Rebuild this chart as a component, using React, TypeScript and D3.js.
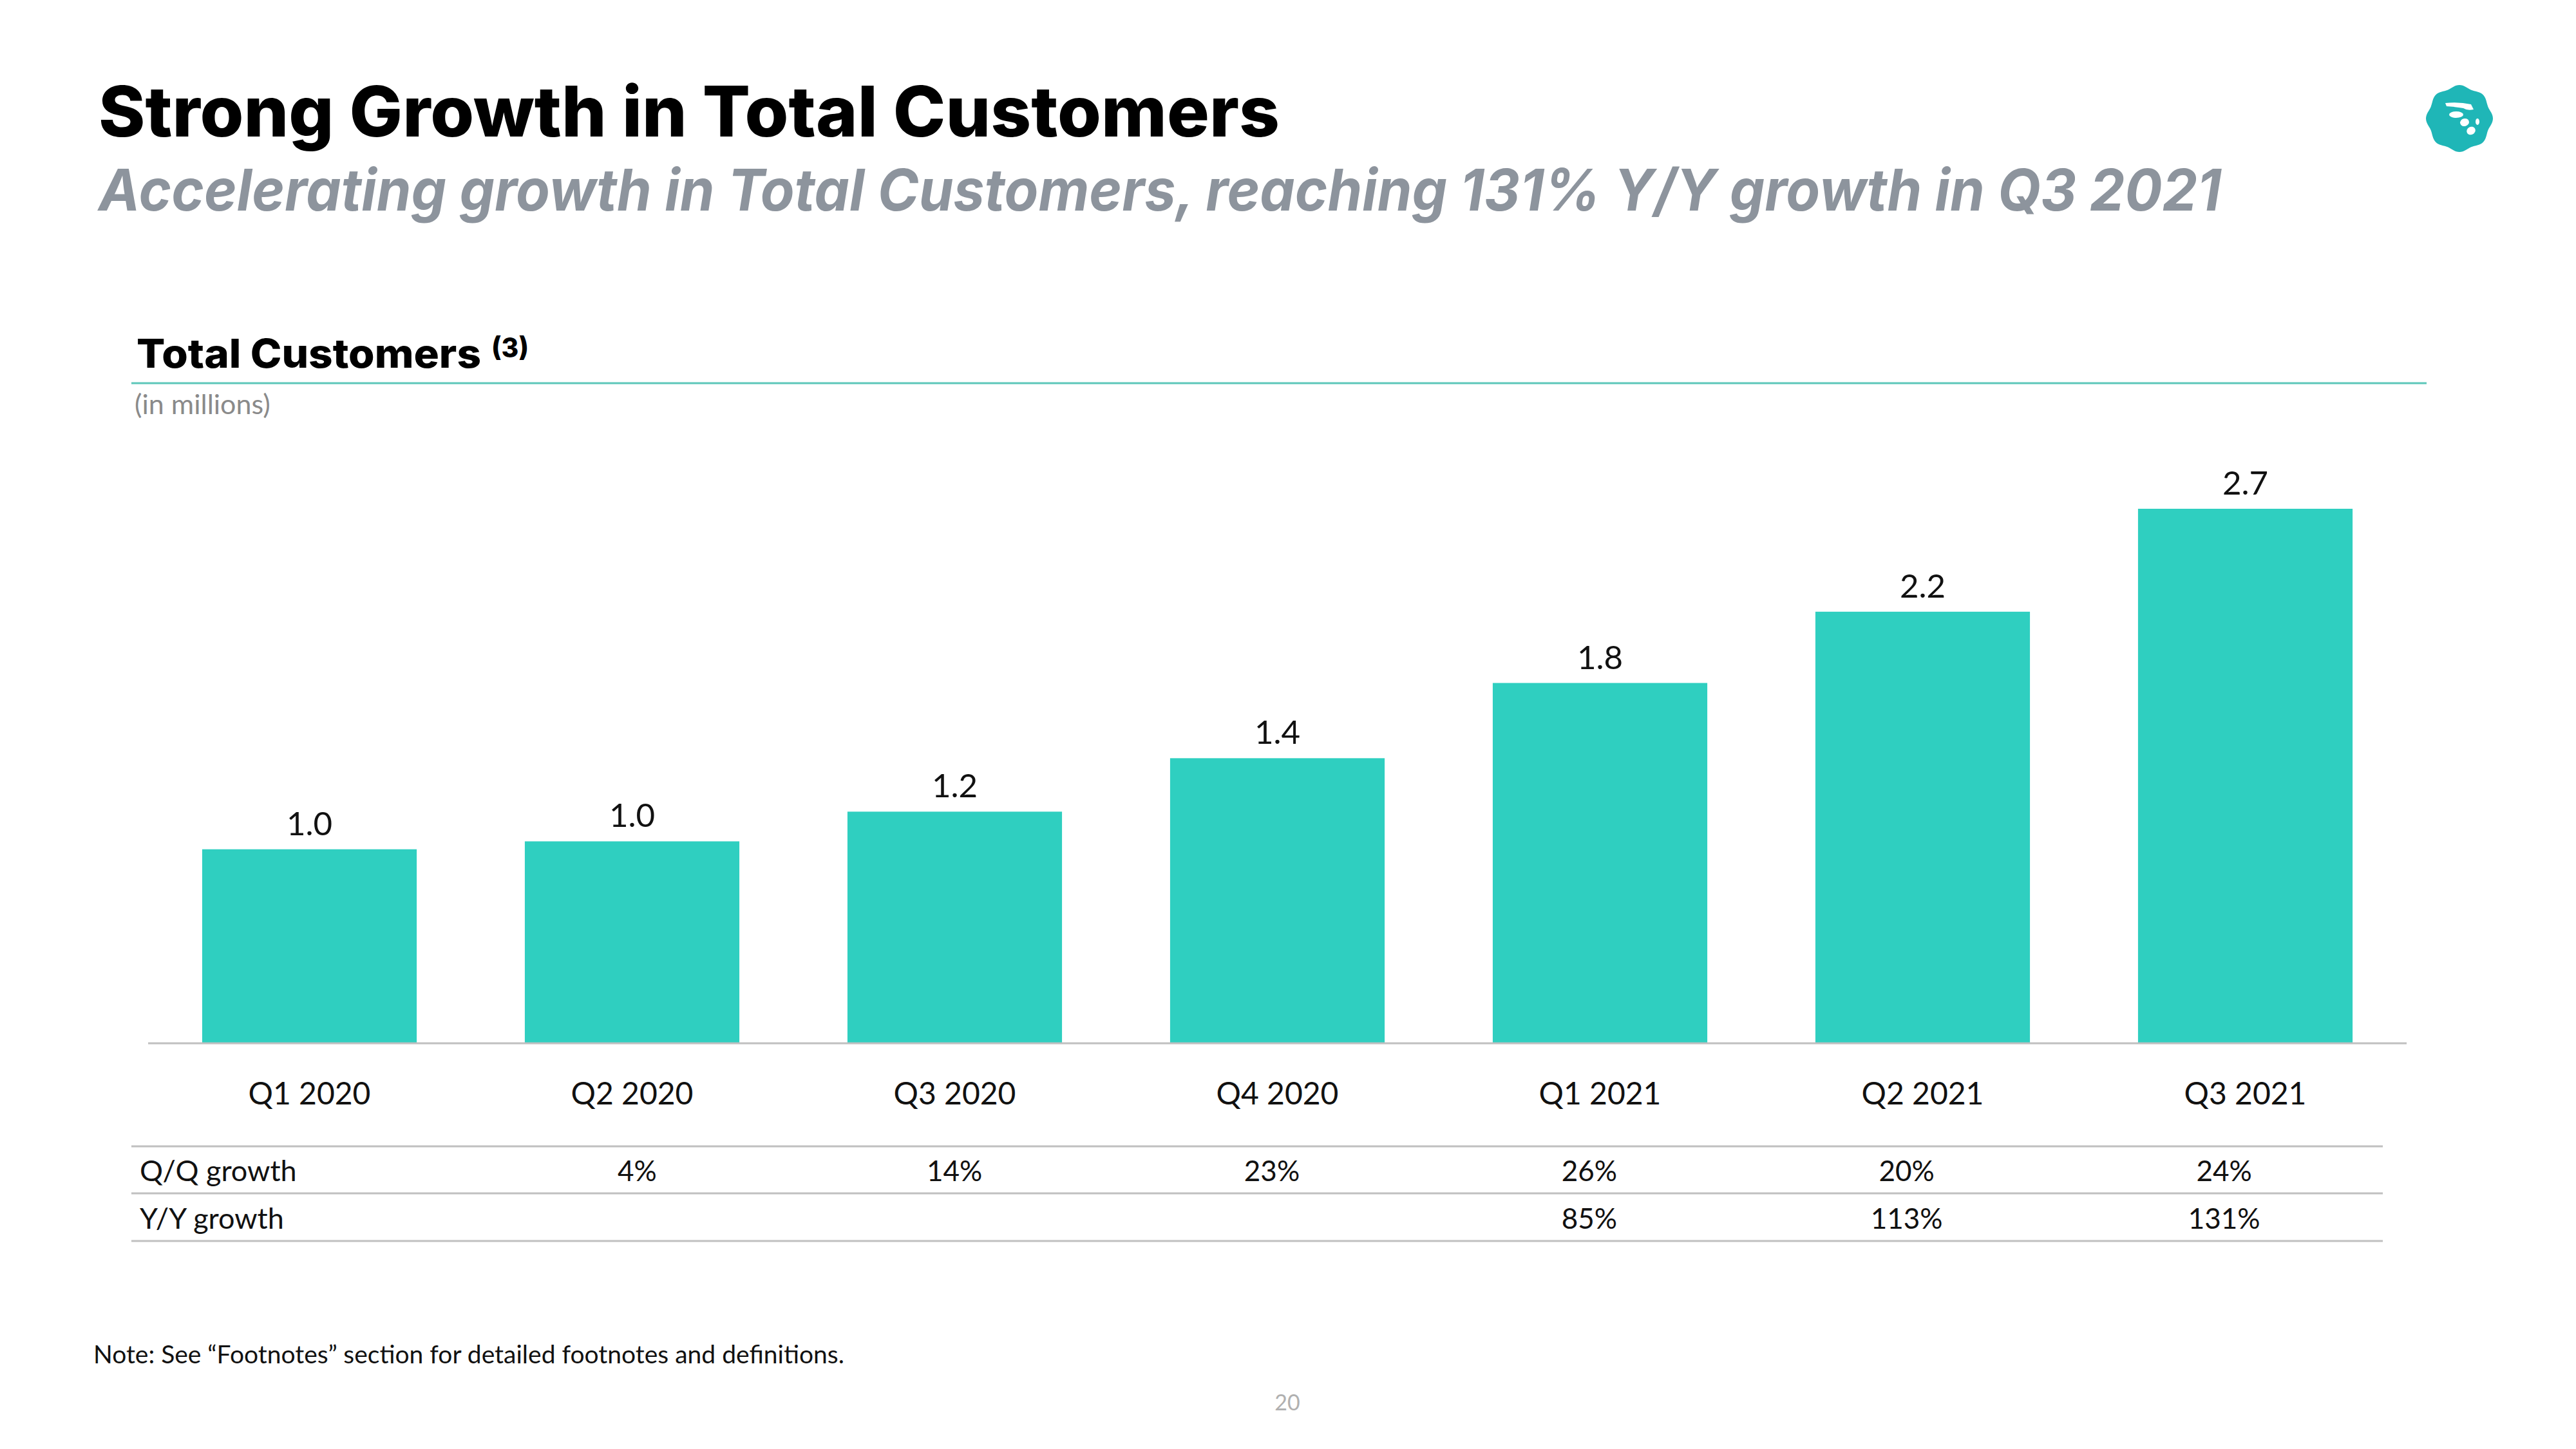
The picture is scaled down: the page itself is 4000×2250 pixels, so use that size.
import React from "react";
import * as d3 from "d3";

const categories = ["Q1 2020", "Q2 2020", "Q3 2020", "Q4 2020", "Q1 2021", "Q2 2021", "Q3 2021"];
const customers = [0.98, 1.02, 1.17, 1.44, 1.82, 2.18, 2.7];
const qoqGrowth: (number | null)[] = [null, 4, 14, 23, 26, 20, 24];
const yoyGrowth: (number | null)[] = [null, null, null, null, 85, 113, 131];
const rowLabels = ["Q/Q growth", "Y/Y growth"];

const TEAL = "#2fcfc0";
const FONT = "Lato, 'Open Sans', sans-serif";
const HEAVY = "Inter, Lato, sans-serif";

function Logo({ cx, cy, r }: { cx: number; cy: number; r: number }) {
  const pts = d3.range(0, 64).map((i) => {
    const a = (i / 64) * Math.PI * 2;
    const rr = r * (1 + 0.04 * Math.cos(a * 8));
    return [a, rr] as [number, number];
  });
  const path = d3.lineRadial().curve(d3.curveCardinalClosed)(pts) || "";
  return (
    <g transform={`translate(${cx},${cy})`}>
      <path d={path} fill="#1fb6b7" />
      <path d="M-22,-24 Q0,-26 18,-22 L22,-14 Q12,-12 6,-16 Q-4,-18 -20,-19 Z" fill="#fff" />
      <ellipse cx={-5} cy={-6} rx={11} ry={5} fill="#fff" />
      <ellipse cx={8} cy={6} rx={7} ry={6} fill="#fff" transform="rotate(-15 8 6)" />
      <ellipse cx={28} cy={5} rx={3} ry={5} fill="#fff" />
      <ellipse cx={18} cy={19} rx={7} ry={6} fill="#fff" transform="rotate(-30 18 19)" />
    </g>
  );
}

export default function App() {
  const x = d3
    .scaleBand<string>()
    .domain(categories)
    .range([230, 3737])
    .paddingInner(0.335)
    .paddingOuter(0.1675);
  const y = d3.scaleLinear().domain([0, 2.7]).range([1620, 790]);
  const tx = d3.scaleBand<string>().domain(categories).range([250, 3700]);
  const fmt = d3.format(".1f");

  return (
    <svg
      width={4000}
      height={2250}
      style={{ position: "absolute", left: 0, top: 0, background: "#fff" }}
    >
      <rect x={0} y={0} width={4000} height={2250} fill="#fff" />
      <text x={153} y={212} fontFamily={HEAVY} fontWeight={800} fontSize={108} fill="#000" textLength={1834} lengthAdjust="spacingAndGlyphs">
        Strong Growth in Total Customers
      </text>
      <text x={153} y={327} fontFamily={HEAVY} fontWeight={700} fontStyle="italic" fontSize={90} fill="#8d949d" textLength={3296} lengthAdjust="spacingAndGlyphs">
        Accelerating growth in Total Customers, reaching 131% Y/Y growth in Q3 2021
      </text>
      <Logo cx={3819} cy={184} r={50} />

      <text x={212} y={571} fontFamily={HEAVY} fontWeight={800} fontSize={62} fill="#000" textLength={535} lengthAdjust="spacingAndGlyphs">
        Total Customers
      </text>
      <text x={763} y={555} fontFamily={HEAVY} fontWeight={800} fontSize={42} fill="#000" textLength={58} lengthAdjust="spacingAndGlyphs">
        (3)
      </text>
      <line x1={204} x2={3768} y1={595} y2={595} stroke="#5cc7b9" strokeWidth={3} />
      <text x={209} y={643} fontFamily={FONT} fontSize={43} fill="#8a8a8a">
        (in millions)
      </text>

      {categories.map((c, i) => (
        <g key={c}>
          <rect x={x(c)} y={y(customers[i])} width={x.bandwidth()} height={y(0) - y(customers[i])} fill={TEAL} />
          <text x={(x(c) || 0) + x.bandwidth() / 2} y={y(customers[i]) - 22} textAnchor="middle" fontFamily={FONT} fontSize={51} fill="#111">
            {fmt(customers[i])}
          </text>
          <text x={(x(c) || 0) + x.bandwidth() / 2} y={1715} textAnchor="middle" fontFamily={FONT} fontSize={48} fill="#111">
            {c}
          </text>
        </g>
      ))}
      <line x1={230} x2={3737} y1={y(0)} y2={y(0)} stroke="#c0c0c0" strokeWidth={3} />

      {[1780, 1853, 1927].map((ly) => (
        <line key={ly} x1={204} x2={3700} y1={ly} y2={ly} stroke="#c0c0c0" strokeWidth={3} />
      ))}
      {rowLabels.map((l, r) => (
        <text key={l} x={217} y={1834 + r * 74} fontFamily={FONT} fontSize={45} fill="#111">
          {l}
        </text>
      ))}
      {[qoqGrowth, yoyGrowth].map((row, r) =>
        row.map((v, i) =>
          v == null ? null : (
            <text key={`${r}-${i}`} x={(tx(categories[i]) || 0) + tx.bandwidth() / 2} y={1834 + r * 74} textAnchor="middle" fontFamily={FONT} fontSize={44} fill="#111">
              {v}%
            </text>
          )
        )
      )}

      <text x={145} y={2117} fontFamily={FONT} fontSize={39} fill="#111">
        Note: See “Footnotes” section for detailed footnotes and definitions.
      </text>
      <text x={1999} y={2190} textAnchor="middle" fontFamily={FONT} fontSize={34} fill="#b0b0b0">
        20
      </text>
    </svg>
  );
}
